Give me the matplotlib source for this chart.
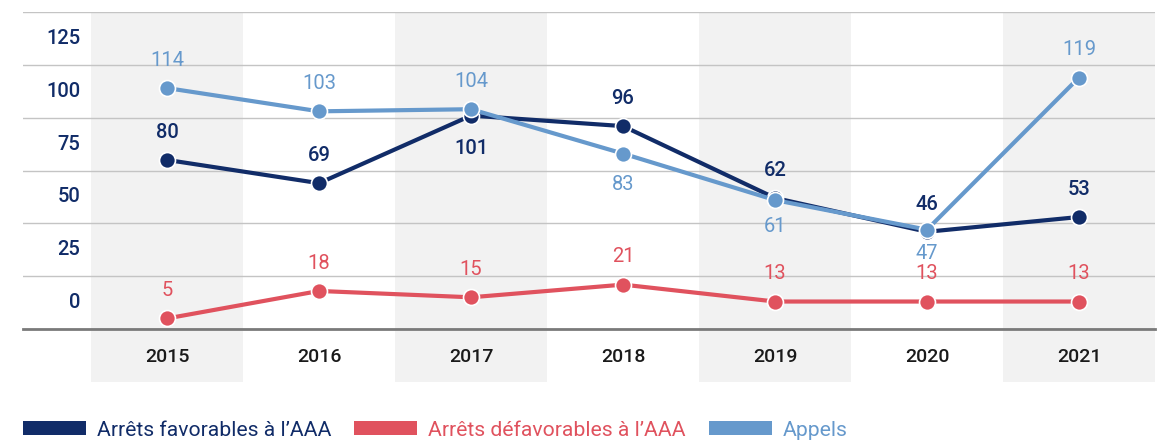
import matplotlib.pyplot as plt
from matplotlib.patches import Patch

plt.rcParams['font.family'] = ['Roboto', 'DejaVu Sans']

# data
years = ['2015', '2016', '2017', '2018', '2019', '2020', '2021']
favorables = [80, 69, 101, 96, 62, 46, 53]
defavorables = [5, 18, 15, 21, 13, 13, 13]
appels = [114, 103, 104, 83, 61, 47, 119]
y_labels = [0, 25, 50, 75, 100, 125]

# label offsets in points (positive = above the point)
fav_off = [20, 20, -24, 20, 20, 20, 20]
def_off = [20, 20, 20, 20, 20, 20, 20]
app_off = [20, 20, 20, -22, -19, -17, 20]

navy = '#112c68'
red = '#e0525e'
blue = '#6699cc'

fig = plt.figure(figsize=(11.64, 4.44), dpi=100)
ax = fig.add_axes([23 / 1164, 115 / 444, (1155 - 23) / 1164, 317 / 444])

x = list(range(len(years)))

# shaded bands behind every other year
for i in x[::2]:
    ax.axvspan(i - 0.5, i + 0.5, ymin=-0.167, ymax=1, color='#f2f2f2',
               zorder=0, clip_on=False, lw=0)

ax.set_xlim(-0.948, 6.5)
ax.set_ylim(0, 150)
ax.set_yticks(range(0, 151, 25))
ax.set_yticklabels([])
ax.set_xticks([])
ax.tick_params(length=0)
ax.grid(axis='y', color='#c4c4c4', lw=1, zorder=1)
for s in ['top', 'left', 'right']:
    ax.spines[s].set_visible(False)
ax.spines['bottom'].set_color('#7a7a7a')
ax.spines['bottom'].set_linewidth(2)
ax.spines['bottom'].set_zorder(2)

# y labels sit in the middle of each band
for v in y_labels:
    ax.text(-0.572, v + 12.5, str(v), ha='right', va='center', fontsize=14.5,
            color=navy, fontweight='medium')

# year labels
for i, yr in enumerate(years):
    ax.text(i, -0.088, yr, transform=ax.get_xaxis_transform(), ha='center',
            va='center', fontsize=14, color='#1a1a1a', fontweight='medium')

series = [
    (favorables, navy, fav_off, 'Arrêts favorables à l’AAA'),
    (defavorables, red, def_off, 'Arrêts défavorables à l’AAA'),
    (appels, blue, app_off, 'Appels'),
]
for vals, col, offs, name in series:
    ax.plot(x, vals, color=col, lw=3, marker='o', ms=11.5, mec='white',
            mew=1.2, zorder=3, clip_on=False)
    for i, v in enumerate(vals):
        ax.annotate(str(v), (i, v), xytext=(0, offs[i]),
                    textcoords='offset points', ha='center', va='center',
                    fontsize=14.5, color=col, zorder=4,
                    fontweight='medium' if col == navy else 'normal')

handles = [Patch(facecolor=c, edgecolor='none') for _, c, _, _ in series]
labels = [n for _, _, _, n in series]
fig.legend(handles, labels, loc='center left', bbox_to_anchor=(23 / 1164, 1 - 430 / 444),
           ncol=3, frameon=False, fontsize=15.2, handlelength=2.98,
           handleheight=0.62, handletextpad=0.52, columnspacing=1.09,
           borderpad=0, borderaxespad=0,
           labelcolor=[c for _, c, _, _ in series])

fig.savefig('out.png', dpi=100)
